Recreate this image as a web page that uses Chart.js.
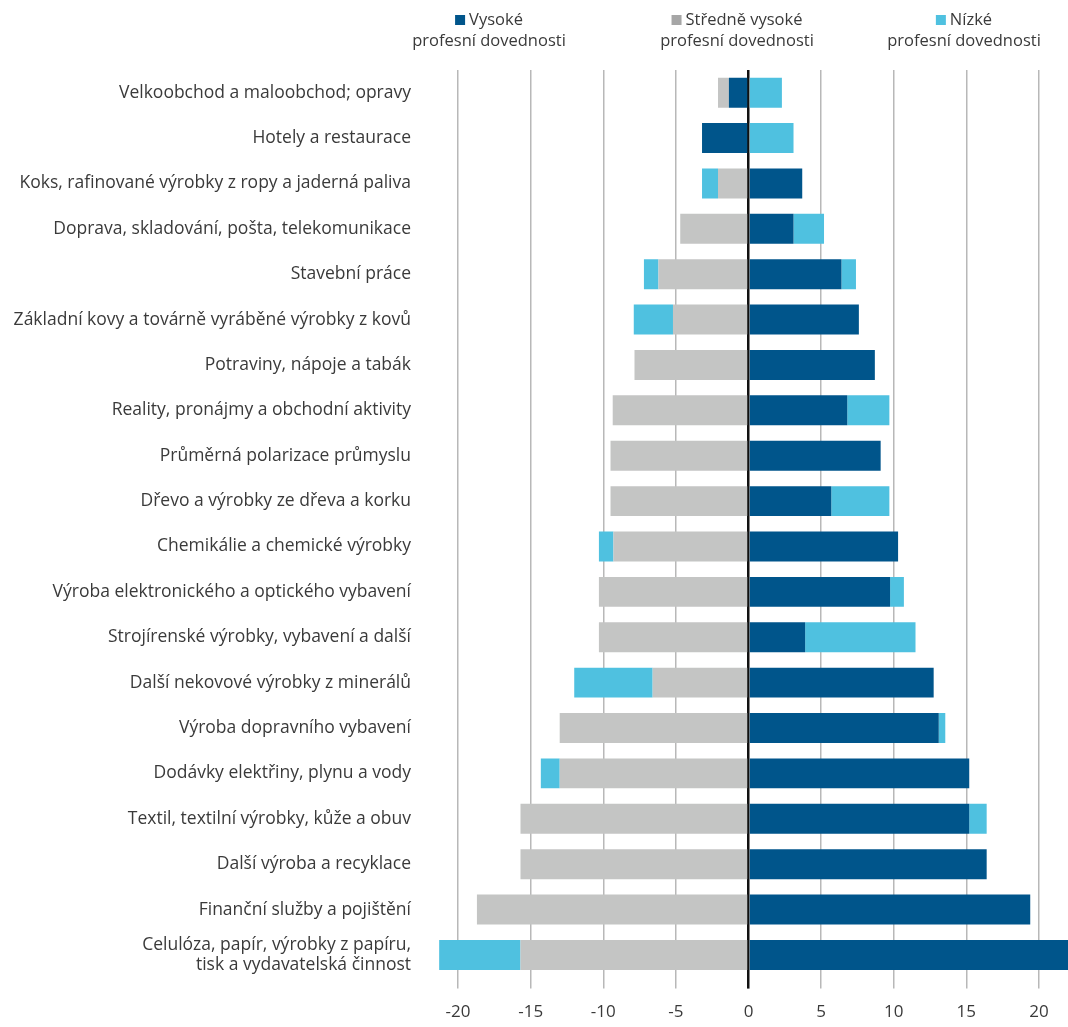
<!DOCTYPE html>
<html>
<head>
<meta charset="utf-8">
<script src="https://cdn.jsdelivr.net/npm/chart.js@4.4.0/dist/chart.umd.min.js"></script>
<style>
  html, body { margin: 0; padding: 0; background: #fff; }
  #wrap { width: 1068px; height: 1027px; position: relative; }
</style>
</head>
<body>
<div id="wrap"><canvas id="polarChart"></canvas></div>
<script>
// odvětví (shora dolů)
const categories = [
  'Velkoobchod a maloobchod; opravy',
  'Hotely a restaurace',
  'Koks, rafinované výrobky z ropy a jaderná paliva',
  'Doprava, skladování, pošta, telekomunikace',
  'Stavební práce',
  'Základní kovy a továrně vyráběné výrobky z kovů',
  'Potraviny, nápoje a tabák',
  'Reality, pronájmy a obchodní aktivity',
  'Průměrná polarizace průmyslu',
  'Dřevo a výrobky ze dřeva a korku',
  'Chemikálie a chemické výrobky',
  'Výroba elektronického a optického vybavení',
  'Strojírenské výrobky, vybavení a další',
  'Další nekovové výrobky z minerálů',
  'Výroba dopravního vybavení',
  'Dodávky elektřiny, plynu a vody',
  'Textil, textilní výrobky, kůže a obuv',
  'Další výroba a recyklace',
  'Finanční služby a pojištění',
  ['Celulóza, papír, výrobky z papíru,', 'tisk a vydavatelská činnost']
];

// změna podílu (p.b.)
const vysoke = [-1.35, -3.2, 3.7, 3.1, 6.4, 7.6, 8.7, 6.8, 9.1, 5.7, 10.3, 9.75, 3.9, 12.75, 13.1, 15.2, 15.2, 16.4, 19.4, 22.0];
const stredni = [-0.75, null, -2.1, -4.7, -6.2, -5.2, -7.85, -9.35, -9.5, -9.5, -9.3, -10.3, -10.3, -6.6, -13.0, -13.0, -15.7, -15.7, -18.7, -15.7];
const nizkeMinus = [null, null, -1.1, null, -1.0, -2.7, null, null, null, null, -1.0, null, null, -5.4, null, -1.3, null, null, null, -5.6];
const nizkePlus = [2.3, 3.1, null, 2.1, 1.0, null, null, 2.9, null, 4.0, null, 0.95, 7.6, null, 0.45, null, 1.2, null, null, null];

const legendNames = [
  ['Vysoké', 'profesní dovednosti'],
  ['Středně vysoké', 'profesní dovednosti'],
  ['Nízké', 'profesní dovednosti']
];
const tickValues = [-20, -15, -10, -5, 0, 5, 10, 15, 20];

const colVysoke = '#00558B';
const colStredni = '#C4C5C4';
const colNizke = '#4FC1E0';
const textColor = '#3a3a3a';
const fontFamily = '"Open Sans", "DejaVu Sans", sans-serif';

// legenda nahoře (dvouřádková)
const topLegend = {
  id: 'topLegend',
  afterDraw(chart, args, opts) {
    const ctx = chart.ctx;
    ctx.save();
    ctx.font = '16.5px ' + fontFamily;
    ctx.fillStyle = textColor;
    ctx.textBaseline = 'middle';
    legendNames.forEach((lines, i) => {
      const cx = opts.centers[i];
      const w1 = ctx.measureText(lines[0]).width;
      const box = 10, gap = 4;
      const startX = cx - (box + gap + w1) / 2;
      ctx.fillStyle = opts.markers[i];
      ctx.fillRect(startX, opts.y1 - box / 2, box, box);
      ctx.fillStyle = textColor;
      ctx.textAlign = 'left';
      ctx.fillText(lines[0], startX + box + gap, opts.y1);
      ctx.textAlign = 'center';
      ctx.fillText(lines[1], cx, opts.y2);
    });
    ctx.restore();
  }
};

new Chart(document.getElementById('polarChart'), {
  type: 'bar',
  data: {
    labels: categories,
    datasets: [
      { label: 'Vysoké', data: vysoke, backgroundColor: colVysoke },
      { label: 'Středně vysoké', data: stredni, backgroundColor: colStredni },
      { label: 'Nízké', data: nizkeMinus, backgroundColor: colNizke },
      { label: 'Nízké ', data: nizkePlus, backgroundColor: colNizke }
    ]
  },
  options: {
    indexAxis: 'y',
    responsive: true,
    maintainAspectRatio: false,
    animation: false,
    layout: { padding: { top: 70, right: 0, bottom: -8, left: 0 } },
    datasets: {
      bar: { barPercentage: 0.66, categoryPercentage: 1.0, borderWidth: 0 }
    },
    scales: {
      x: {
        stacked: true,
        min: -22,
        max: 22,
        afterBuildTicks: (axis) => { axis.ticks = tickValues.map(v => ({ value: v })); },
        border: { display: false },
        grid: {
          color: (c) => (c.tick && c.tick.value === 0) ? '#111' : '#b8b8b8',
          lineWidth: (c) => (c.tick && c.tick.value === 0) ? 2.5 : 1.5,
          drawTicks: true,
          tickLength: 11
        },
        ticks: {
          color: textColor,
          padding: 13,
          font: { family: fontFamily, size: 17 },
          callback: (v) => String(v)
        }
      },
      y: {
        stacked: true,
        afterFit: (scale) => { scale.width = 429; },
        border: { display: false },
        grid: { display: false, drawTicks: false },
        ticks: {
          color: textColor,
          padding: 18,
          font: { family: fontFamily, size: 17.5, lineHeight: 1.1 }
        }
      }
    },
    plugins: {
      legend: { display: false },
      tooltip: { enabled: false },
      topLegend: {
        centers: [489, 737, 964],
        y1: 20,
        y2: 41,
        markers: [colVysoke, '#A6A6A6', colNizke]
      }
    }
  },
  plugins: [topLegend]
});
</script>
</body>
</html>
